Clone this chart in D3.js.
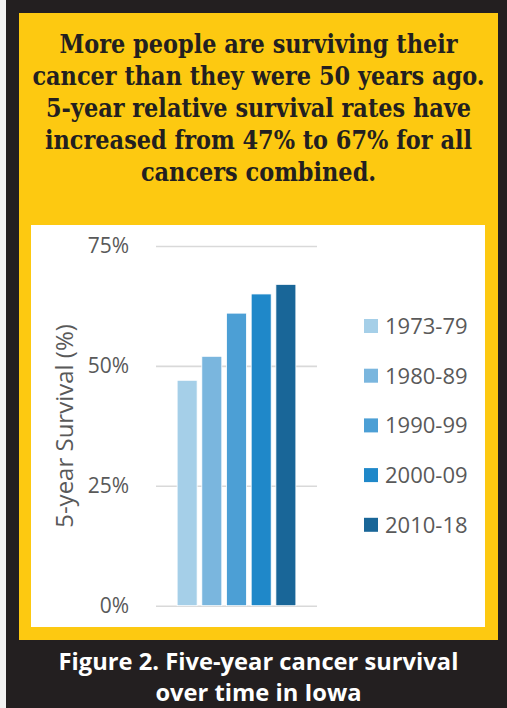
<!DOCTYPE html>
<html>
<head>
<meta charset="utf-8">
<script src="https://cdn.jsdelivr.net/npm/d3@7"></script>
<style>
  html, body { margin: 0; padding: 0; background: #f2f2f2; }
  svg { display: block; }
</style>
</head>
<body>
<svg id="chart" width="507" height="708"></svg>
<script>
// Five-year relative survival, all cancers combined, Iowa
const periods = ["1973-79", "1980-89", "1990-99", "2000-09", "2010-18"];
const survival = [47, 52, 61, 65, 67];
const barColors = ["#a5cfe8", "#7ab6de", "#4c9fd5", "#1f88c9", "#196698"];
const yTicks = [0, 25, 50, 75];
const headline = [
  "More people are surviving their",
  "cancer than they were 50 years ago.",
  "5-year relative survival rates have",
  "increased from 47% to 67% for all",
  "cancers combined."
];
const caption = ["Figure 2. Five-year cancer survival", "over time in Iowa"];

const svg = d3.select("#chart");
const W = 507, H = 708;

// size a block of centred lines so its widest line spans `width` px
function fitLines(sel, width) {
  const start = 20;
  sel.attr("font-size", start);
  const widest = d3.max(sel.nodes(), n => n.getComputedTextLength());
  sel.attr("font-size", start * width / widest);
}

// frame: dark card, yellow panel, white chart area
svg.append("rect").attr("x", 6).attr("y", 0).attr("width", W - 6).attr("height", H).attr("fill", "#231f20");
svg.append("rect").attr("x", 19).attr("y", 13).attr("width", 479).attr("height", 627).attr("fill", "#fdc911");
svg.append("rect").attr("x", 31).attr("y", 225).attr("width", 454).attr("height", 402).attr("fill", "#ffffff");

// headline: a slightly tall serif, stretched vertically on each baseline
const head = svg.append("g").selectAll("text").data(headline).join("text")
  .attr("transform", (d, i) => `translate(258.5,${53 + i * 32}) scale(1,1.16)`)
  .attr("text-anchor", "middle")
  .attr("font-family", "'DejaVu Serif', serif")
  .attr("font-weight", "bold")
  .attr("fill", "#231f20")
  .text(d => d);
fitLines(head, 452);

// caption
const cap = svg.append("g").selectAll("text").data(caption).join("text")
  .attr("x", 258.5)
  .attr("y", (d, i) => 670 + i * 31)
  .attr("text-anchor", "middle")
  .attr("font-family", "'Open Sans', sans-serif")
  .attr("font-weight", 700)
  .attr("fill", "#ffffff")
  .text(d => d);
fitLines(cap, 400);

// scales
const y = d3.scaleLinear().domain([0, 75]).range([605.7, 246]);
const x0 = d3.scaleBand().domain(["all"]).range([156, 317]).paddingInner(0).paddingOuter(0.178);
const x1 = d3.scaleBand().domain(periods).range([0, x0.bandwidth()]).paddingInner(0.19);
const color = d3.scaleOrdinal().domain(periods).range(barColors);

// gridlines + tick labels
const yAxis = d3.axisLeft(y)
  .tickValues(yTicks)
  .tickFormat(d => d + "%")
  .tickSize(-(317 - 156))
  .tickPadding(27);
const gy = svg.append("g").attr("transform", "translate(156,0)").call(yAxis);
gy.select(".domain").remove();
gy.selectAll(".tick line").attr("stroke", "#d9d9d9").attr("stroke-width", 1.6);
gy.selectAll(".tick text")
  .attr("font-family", "'Open Sans', sans-serif")
  .attr("font-size", 21)
  .attr("fill", "#595959");

// axis title
svg.append("text")
  .attr("transform", "translate(73,426) rotate(-90)")
  .attr("text-anchor", "middle")
  .attr("font-family", "'Open Sans', sans-serif")
  .attr("font-size", 24)
  .attr("fill", "#595959")
  .text("5-year Survival (%)");

// bars
svg.append("g").attr("transform", `translate(${x0("all")},0)`)
  .selectAll("rect").data(periods.map((p, i) => ({ p, v: survival[i] }))).join("rect")
  .attr("x", d => x1(d.p))
  .attr("y", d => y(d.v))
  .attr("width", x1.bandwidth())
  .attr("height", d => y(0) - y(d.v))
  .attr("fill", d => color(d.p))
  .attr("stroke", "#ffffff")
  .attr("stroke-width", 0.8);

// legend
const lg = svg.append("g").selectAll("g").data(periods).join("g")
  .attr("transform", (d, i) => `translate(364,${326 + i * 49.7})`);
lg.append("rect").attr("x", 0).attr("y", -7).attr("width", 14).attr("height", 14)
  .attr("fill", d => color(d));
lg.append("text").attr("x", 21).attr("y", 0).attr("dy", "0.36em")
  .attr("font-family", "'Open Sans', sans-serif")
  .attr("font-size", 22)
  .attr("fill", "#595959")
  .text(d => d);
</script>
</body>
</html>
